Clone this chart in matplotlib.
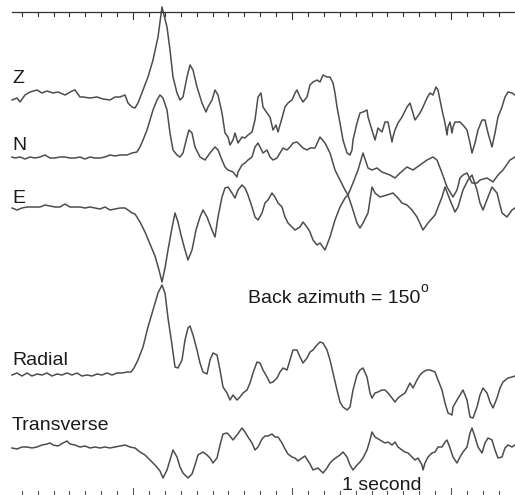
import matplotlib
matplotlib.use("Agg")
import matplotlib.pyplot as plt
import numpy as np

# digitised 3-component record, resampled on the 159 sps time base of the plot
FS = 159.0          # samples per second
MARK = 133          # sample of the first full-second mark

# ---- Z component ----
z_s = [12, 17, 20, 25, 30, 37, 42, 47, 53, 58,
       65, 72, 75, 80, 83, 90, 97, 103, 110, 115,
       120, 125, 128, 132, 135, 138, 143, 148, 153, 158,
       162, 167, 170, 173, 177, 180, 183, 187, 190, 193,
       197, 202, 206, 208, 212, 215, 218, 222, 225, 228,
       230, 233, 235, 238, 242, 245, 248, 252, 255, 258,
       261, 263, 267, 270, 273, 276, 278, 282, 285, 288,
       292, 295, 297, 300, 303, 307, 310, 313, 317, 320,
       323, 327, 330, 333, 335, 337, 340, 343, 347, 350,
       352, 353, 357, 360, 363, 367, 368, 372, 375, 377,
       378, 382, 385, 388, 390, 392, 393, 395, 398, 402,
       407, 410, 413, 415, 420, 423, 427, 430, 433, 436,
       438, 442, 445, 447, 448, 450, 452, 453, 455, 460,
       463, 467, 470, 472, 475, 478, 482, 485, 488, 492,
       495, 498, 502, 505, 508, 512, 515]
z_a = [-2, 0, -4, 3, 6, 8, 5, 7, 5, 6,
       3, 7, 8, 1, 1, 0, 1, -1, -2, 1,
       1, 3, -5, -9, -10, -5, 8, 21, 38, 61,
       91, 71, 48, 21, 5, -2, 1, 21, 33, 28,
       11, -5, -14, -9, -2, 8, 3, -15, -35, -39,
       -47, -42, -35, -45, -39, -40, -37, -34, -22, 1,
       5, -9, -15, -19, -32, -27, -34, -20, -9, -5,
       -2, 5, 8, 1, -4, 1, 13, 16, 18, 16,
       23, 21, 21, 15, 5, -9, -25, -42, -55, -57,
       -52, -42, -25, -15, -14, -12, -19, -32, -42, -34,
       -30, -34, -24, -24, -34, -44, -39, -32, -25, -19,
       -9, -5, -15, -22, -15, -9, 0, 5, 3, 11,
       8, -12, -25, -37, -29, -24, -35, -29, -24, -24,
       -27, -32, -45, -55, -45, -32, -22, -22, -35, -49,
       -35, -19, -9, 1, 6, 5, 3]

# ---- N component ----
n_s = [12, 15, 20, 25, 30, 35, 40, 45, 50, 55,
       60, 65, 70, 75, 80, 85, 90, 95, 100, 105,
       110, 115, 120, 127, 132, 137, 140, 143, 147, 150,
       153, 157, 160, 163, 167, 170, 173, 177, 180, 183,
       187, 189, 192, 195, 200, 205, 210, 215, 218, 222,
       225, 228, 233, 237, 238, 242, 245, 248, 252, 255,
       258, 260, 263, 267, 270, 273, 277, 280, 283, 287,
       290, 293, 297, 300, 303, 307, 310, 315, 320, 325,
       330, 335, 340, 345, 348, 352, 357, 360, 363, 368,
       372, 375, 380, 387, 393, 398, 402, 407, 412, 417,
       423, 428, 435, 442, 445, 450, 455, 458, 463, 468,
       472, 477, 480, 483, 488, 492, 497, 502, 507, 512,
       515]
n_a = [0, -1, 0, -2, 0, -1, 0, 2, -1, -1,
       0, 0, -1, -1, 0, -2, 0, -1, -1, 0,
       2, 1, 2, 2, 4, 5, 10, 17, 27, 37,
       47, 57, 62, 59, 47, 24, 7, 2, 0, 4,
       20, 27, 24, 10, 0, -3, 4, 10, 7, -3,
       -10, -13, -15, -20, -15, -8, -6, -3, 0, 10,
       14, 10, 4, 7, 0, -3, -1, 4, 9, 7,
       10, 14, 15, 12, 9, 7, 9, 9, 20, 14,
       4, -13, -23, -33, -38, -50, -66, -71, -66, -56,
       -30, -36, -40, -38, -36, -41, -46, -48, -53, -60,
       -73, -66, -58, -40, -30, -43, -55, -50, -33, -23,
       -18, -33, -46, -53, -40, -30, -36, -56, -60, -53,
       -51]

# ---- E component ----
e_s = [12, 17, 22, 27, 33, 40, 45, 50, 55, 60,
       65, 70, 75, 80, 85, 90, 95, 100, 105, 110,
       115, 120, 125, 128, 132, 135, 140, 145, 150, 155,
       159, 162, 165, 168, 172, 175, 178, 181, 185, 188,
       192, 196, 200, 203, 207, 212, 215, 218, 222, 225,
       228, 232, 235, 238, 242, 245, 248, 252, 255, 258,
       262, 265, 268, 272, 275, 278, 282, 285, 288, 292,
       295, 300, 303, 307, 310, 313, 317, 320, 325, 330,
       335, 340, 345, 348, 353, 358, 363, 368, 372, 377,
       382, 390, 395, 400, 407, 413, 420, 427, 433, 437,
       442, 447, 450, 453, 457, 460, 463, 467, 472, 477,
       480, 487, 493, 498, 503, 510, 515]
e_a = [0, -2, 0, 1, 1, 1, 3, 2, 1, 1,
       4, 1, 1, 1, 0, 1, 0, -1, 1, -2,
       -1, 0, 0, -2, -5, -6, -14, -24, -36, -48,
       -62, -74, -60, -42, -20, -5, -14, -27, -42, -52,
       -42, -22, -9, -2, -9, -22, -29, -9, 11, 20,
       21, 15, 10, 18, 23, 20, 13, 1, -9, -12,
       -5, 5, 8, 15, 11, 5, 1, -9, -15, -19,
       -22, -19, -14, -19, -24, -32, -37, -35, -42, -29,
       -12, 1, 10, 13, 25, 38, 55, 40, 38, 40,
       36, 33, 30, 35, 41, 38, 43, 48, 51, 48,
       35, 21, 16, 11, 18, 30, 33, 35, 25, 25,
       28, 30, 26, 33, 38, 48, 51]

# ---- Radial (rotated) ----
r_s = [12, 17, 22, 27, 32, 37, 42, 47, 52, 57,
       62, 67, 72, 77, 82, 87, 92, 97, 102, 107,
       112, 117, 122, 127, 131, 134, 138, 143, 148, 153,
       158, 162, 165, 168, 172, 175, 178, 182, 185, 188,
       190, 193, 197, 200, 203, 207, 210, 213, 217, 220,
       223, 227, 230, 233, 237, 240, 243, 247, 250, 253,
       257, 260, 263, 267, 270, 273, 277, 280, 283, 287,
       290, 293, 297, 300, 303, 307, 310, 313, 317, 320,
       323, 327, 330, 333, 337, 340, 343, 347, 350, 353,
       357, 360, 363, 367, 370, 372, 375, 378, 382, 385,
       388, 392, 395, 398, 402, 405, 408, 410, 413, 417,
       420, 423, 427, 430, 435, 438, 442, 445, 448, 452,
       453, 457, 460, 463, 467, 470, 473, 477, 480, 483,
       487, 490, 493, 497, 500, 503, 508, 512, 515]
r_a = [-1, 1, -2, 1, -2, 0, -1, 1, -2, 0,
       -1, 1, -1, 1, -2, -1, -2, 0, -1, 1,
       -1, 1, 1, 2, 2, 6, 14, 27, 47, 64,
       81, 89, 81, 56, 29, 7, 6, 14, 34, 46,
       48, 39, 24, 11, 2, 0, 14, 21, 19, 4,
       -13, -19, -26, -21, -26, -23, -19, -16, -9, 1,
       12, 11, 4, -3, -9, -8, -4, 2, 6, 4,
       14, 24, 24, 17, 11, 16, 22, 24, 29, 32,
       31, 24, 14, 1, -16, -28, -33, -36, -33, -16,
       -1, 4, 6, -3, -19, -24, -19, -18, -16, -16,
       -19, -24, -28, -24, -21, -19, -13, -9, -14, -6,
       -1, 2, 4, 4, 2, -6, -16, -29, -39, -41,
       -33, -26, -21, -16, -26, -43, -44, -33, -21, -14,
       -19, -28, -34, -24, -14, -8, -4, -3, -2]

# ---- Transverse (rotated) ----
t_s = [12, 17, 22, 27, 32, 37, 42, 47, 50, 53,
       58, 63, 67, 70, 75, 80, 85, 90, 95, 100,
       105, 110, 115, 120, 125, 130, 135, 140, 145, 150,
       155, 160, 163, 167, 170, 173, 177, 180, 183, 188,
       192, 195, 198, 203, 207, 210, 213, 217, 220, 223,
       227, 230, 233, 237, 242, 245, 248, 252, 255, 258,
       262, 265, 268, 272, 275, 278, 282, 285, 288, 292,
       295, 298, 302, 305, 310, 313, 318, 323, 327, 330,
       333, 337, 340, 343, 347, 350, 353, 357, 360, 363,
       367, 370, 372, 375, 380, 385, 388, 392, 395, 398,
       402, 405, 408, 412, 415, 418, 422, 423, 425, 428,
       432, 435, 438, 442, 445, 447, 450, 453, 457, 460,
       463, 467, 470, 472, 475, 478, 482, 485, 488, 492,
       495, 498, 502, 505, 508, 512, 515]
t_a = [-1, -2, 0, 0, -1, 0, 2, 3, 4, 2,
       1, 4, 6, 3, 2, 0, 1, -1, 0, -1,
       0, -1, 0, 1, 2, 0, -1, -5, -8, -13,
       -18, -24, -31, -23, -13, -3, -10, -20, -26, -31,
       -27, -18, -8, -5, -8, -11, -16, -11, 2, 13,
       14, 11, 7, 12, 19, 15, 10, 4, -3, 0,
       8, 11, 11, 13, 10, 10, 4, -2, -7, -10,
       -11, -14, -11, -9, -17, -23, -21, -26, -21, -16,
       -13, -10, -8, -5, -10, -18, -23, -18, -15, -11,
       -3, 7, 15, 10, 7, 4, 5, 2, 5, 0,
       -3, -5, -6, -10, -13, -11, -18, -23, -16, -10,
       -6, -5, 0, 0, 5, 7, -1, -10, -16, -10,
       -5, 0, 14, 19, 10, 0, -6, 4, 9, 7,
       -3, -11, -10, -1, 2, 0, 2]

labels = ["Z", "N", "E", "Radial", "Transverse"]
samples = [z_s, n_s, e_s, r_s, t_s]
amps = [z_a, n_a, e_a, r_a, t_a]

# vertical placement of each trace and its label
offsets = [397, 338, 287, 121, 48]
label_y = [412, 345, 292, 130, 65]

plt.rcParams['font.family'] = ['Liberation Sans', 'DejaVu Sans']

fig = plt.figure(figsize=(5.15, 4.95), dpi=100)
ax = fig.add_axes([0, 0, 1, 1])

def sec(s):
    return (np.asarray(s, dtype=float) - MARK) / FS

for s, a, off in zip(samples, amps, offsets):
    ax.plot(sec(s), np.asarray(a) + off, color='#4d4d4d', lw=1.1,
            solid_joinstyle='round')

t0 = sec(12)
for lab, ly in zip(labels, label_y):
    ax.text(t0, ly, lab, fontsize=14, color='#1a1a1a', va='baseline')

# time scale: 0.1 s ticks, whole seconds longer
ticks = np.arange(-7, 24) / 10.0
top = 483
ax.plot([t0, sec(515)], [top, top], color='#333333', lw=0.9)
for tk in ticks:
    major = abs(tk - round(tk)) < 1e-6
    h = 7 if major else 4
    ax.plot([tk, tk], [top, top - h], color='#333333', lw=0.8)
    ax.plot([tk, tk], [0, h], color='#555555', lw=0.8)

ax.text(sec(248), 192, "Back azimuth = 150", fontsize=14, color='#1a1a1a',
        va='baseline')
ax.text(sec(420), 203, "o", fontsize=10, color='#1a1a1a', va='baseline')
ax.text(sec(342), 5, "1 second", fontsize=14, color='#1a1a1a', va='baseline')

ax.set_xlim(sec(0), sec(515))
ax.set_ylim(0, 495)
ax.axis('off')

fig.savefig("out.png", dpi=100, facecolor='white')
